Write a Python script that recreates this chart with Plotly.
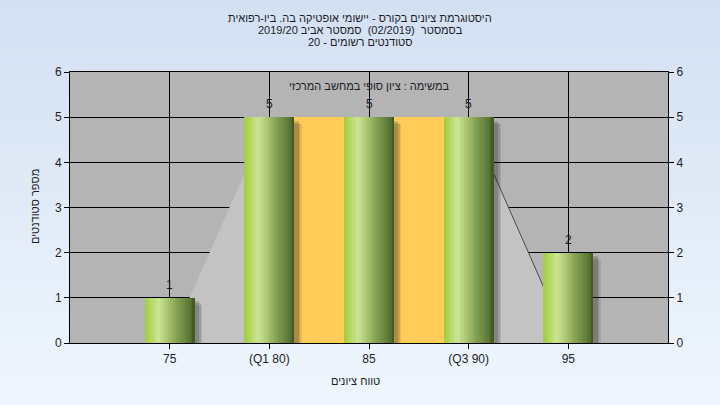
import plotly.graph_objects as go

# ---------------- data ----------------
categories = ["75", "(Q1 80)", "85", "(Q3 90)", "95"]
counts = [1, 5, 5, 5, 2]
envelope = [0, 5, 5, 5, 0]          # light-grey background polygon
iqr_start_idx, iqr_end_idx = 1, 3    # Q1 .. Q3 category positions
iqr_height = 5
y_ticks = [0, 1, 2, 3, 4, 5, 6]

title_lines = [
    "היסטוגרמת ציונים בקורס - יישומי אופטיקה בה. ביו-רפואית",
    "בסמסטר  (02/2019)  סמסטר אביב 2019/20",
    "סטודנטים רשומים - 20",
]
subtitle = "במשימה : ציון סופי במחשב המרכזי"
x_title = "טווח ציונים"
y_title = "מספר סטודנטים"

# ---------------- layout geometry ----------------
W, H = 720, 405
ML, MR, MT, MB = 70, 52, 72, 62
PW, PH = W - ML - MR, H - MT - MB
FONT = "Liberation Sans, Arial, DejaVu Sans, sans-serif"
TXT = "#1c1c28"


def px_to_paper_x(px):
    return (px - ML) / PW


def px_to_paper_y(py):
    return (H - MB - py) / PH


xs = list(range(len(categories)))
fig = go.Figure()

# yellow inter-quartile band
fig.add_trace(go.Bar(x=[(iqr_start_idx + iqr_end_idx) / 2], y=[iqr_height],
                     width=[iqr_end_idx - iqr_start_idx],
                     marker=dict(color="#FFCC58", line=dict(width=0)),
                     hoverinfo="skip", showlegend=False))

BW = 0.5
# soft shadow
for dx, dy, a in [(0.075, 0.16, 0.10), (0.06, 0.12, 0.14), (0.045, 0.08, 0.18)]:
    fig.add_trace(go.Bar(x=xs, y=counts, base=[-dy] * len(xs), width=BW,
                         offset=-BW / 2 + dx,
                         marker=dict(color=f"rgba(30,30,30,{a})", line=dict(width=0)),
                         hoverinfo="skip", showlegend=False))

# gradient bars built from thin slices
stops = [(0.0, (160, 206, 66)), (0.08, (172, 212, 84)), (0.28, (204, 228, 150)),
         (0.45, (172, 198, 114)), (0.65, (130, 160, 82)), (0.85, (98, 128, 58)),
         (0.95, (80, 106, 44)), (1.0, (60, 82, 32))]


def grad(t):
    for (t0, c0), (t1, c1) in zip(stops[:-1], stops[1:]):
        if t0 <= t <= t1:
            f = (t - t0) / (t1 - t0) if t1 > t0 else 0
            return "rgb(%d,%d,%d)" % tuple(round(a + (b - a) * f) for a, b in zip(c0, c1))
    return "rgb(%d,%d,%d)" % stops[-1][1]


N = 30
sw = BW / N
for k in range(N):
    t = (k + 0.5) / N
    wk = min(sw * 2.0, BW - k * sw)
    fig.add_trace(go.Bar(x=xs, y=counts, width=wk, offset=-BW / 2 + k * sw,
                         marker=dict(color=grad(t), line=dict(width=0)),
                         hoverinfo="skip", showlegend=False))

# invisible trace to activate right axis
fig.add_trace(go.Scatter(x=xs, y=counts, yaxis="y2", mode="markers",
                         marker=dict(opacity=0), hoverinfo="skip", showlegend=False))

# background gradient bands + plot area
shapes = []
top_c, bot_c = (211, 224, 242), (239, 246, 253)
nb = 81
for i in range(nb):
    p0 = i * H / nb
    p1 = (i + 1) * H / nb + 0.6
    f = i / (nb - 1)
    c = tuple(round(a + (b - a) * f) for a, b in zip(top_c, bot_c))
    shapes.append(dict(type="rect", xref="paper", yref="paper", layer="below",
                       x0=px_to_paper_x(0), x1=px_to_paper_x(W),
                       y0=px_to_paper_y(p1), y1=px_to_paper_y(p0),
                       line=dict(width=0), fillcolor="rgb(%d,%d,%d)" % c))
shapes.append(dict(type="rect", xref="x domain", yref="y domain", layer="below",
                   x0=0, x1=1, y0=0, y1=1, line=dict(width=0), fillcolor="#b4b4b4"))

# envelope polygon (above grid, below bars)
env_path = "M %s,0 " % xs[0] + " ".join("L %s,%s" % (x, v) for x, v in zip(xs, envelope)) + \
           " L %s,0 Z" % xs[-1]
shapes.append(dict(type="path", xref="x", yref="y", layer="between", path=env_path,
                   fillcolor="#c3c3c3", line=dict(width=0)))
edge_x, edge_y = xs[iqr_end_idx:], envelope[iqr_end_idx:]
edge_path = "M %s,%s " % (edge_x[0], edge_y[0]) + " ".join(
    "L %s,%s" % (x, v) for x, v in zip(edge_x[1:], edge_y[1:]))
shapes.append(dict(type="path", xref="x", yref="y", layer="between", path=edge_path,
                   line=dict(width=1, color="#4a4a4a")))

annotations = []
for line, py in zip(title_lines, [18, 30, 42]):
    annotations.append(dict(text=line, xref="paper", yref="paper",
                            x=px_to_paper_x(360), y=px_to_paper_y(py),
                            xanchor="center", yanchor="middle", showarrow=False,
                            font=dict(family=FONT, size=11, color=TXT)))
annotations.append(dict(text=subtitle, xref="paper", yref="paper",
                        x=px_to_paper_x(369), y=px_to_paper_y(86),
                        xanchor="center", yanchor="middle", showarrow=False,
                        font=dict(family=FONT, size=11, color=TXT)))
annotations.append(dict(text=x_title, xref="paper", yref="paper",
                        x=px_to_paper_x(355), y=px_to_paper_y(381),
                        xanchor="center", yanchor="middle", showarrow=False,
                        font=dict(family=FONT, size=11, color=TXT)))
annotations.append(dict(text=y_title, xref="paper", yref="paper", textangle=-90,
                        x=px_to_paper_x(35), y=px_to_paper_y(207),
                        xanchor="center", yanchor="middle", showarrow=False,
                        font=dict(family=FONT, size=11, color=TXT)))
for x, c in zip(xs, counts):
    annotations.append(dict(text=str(c), x=x, y=c, xref="x", yref="y",
                            xanchor="center", yanchor="bottom", yshift=4, showarrow=False,
                            font=dict(family=FONT, size=12, color=TXT)))

fig.update_layout(
    width=W, height=H, margin=dict(l=ML, r=MR, t=MT, b=MB, pad=0),
    paper_bgcolor="rgb(211,224,242)", plot_bgcolor="rgba(0,0,0,0)",
    barmode="overlay", bargap=0, showlegend=False,
    shapes=shapes, annotations=annotations,
    xaxis=dict(range=[-1, len(categories)], tickmode="array", tickvals=xs, ticktext=categories,
               showgrid=True, gridcolor="black", gridwidth=1, zeroline=False,
               showline=True, linecolor="black", linewidth=1, mirror=True,
               ticks="outside", ticklen=5, tickcolor="black",
               tickfont=dict(family=FONT, size=12, color=TXT), fixedrange=True),
    yaxis=dict(range=[0, 6], tickmode="array", tickvals=y_ticks,
               showgrid=True, gridcolor="black", gridwidth=1, zeroline=False,
               showline=True, linecolor="black", linewidth=1,
               ticks="outside", ticklen=5, tickcolor="black",
               tickfont=dict(family=FONT, size=12, color=TXT), fixedrange=True),
    yaxis2=dict(range=[0, 6], tickmode="array", tickvals=y_ticks, overlaying="y", side="right",
                showgrid=False, zeroline=False, showline=True, linecolor="black", linewidth=1,
                ticks="outside", ticklen=5, tickcolor="black",
                tickfont=dict(family=FONT, size=12, color=TXT), fixedrange=True),
)

fig.write_html("out.html", config={"displayModeBar": False},
               post_script="document.body.style.margin='0';")
